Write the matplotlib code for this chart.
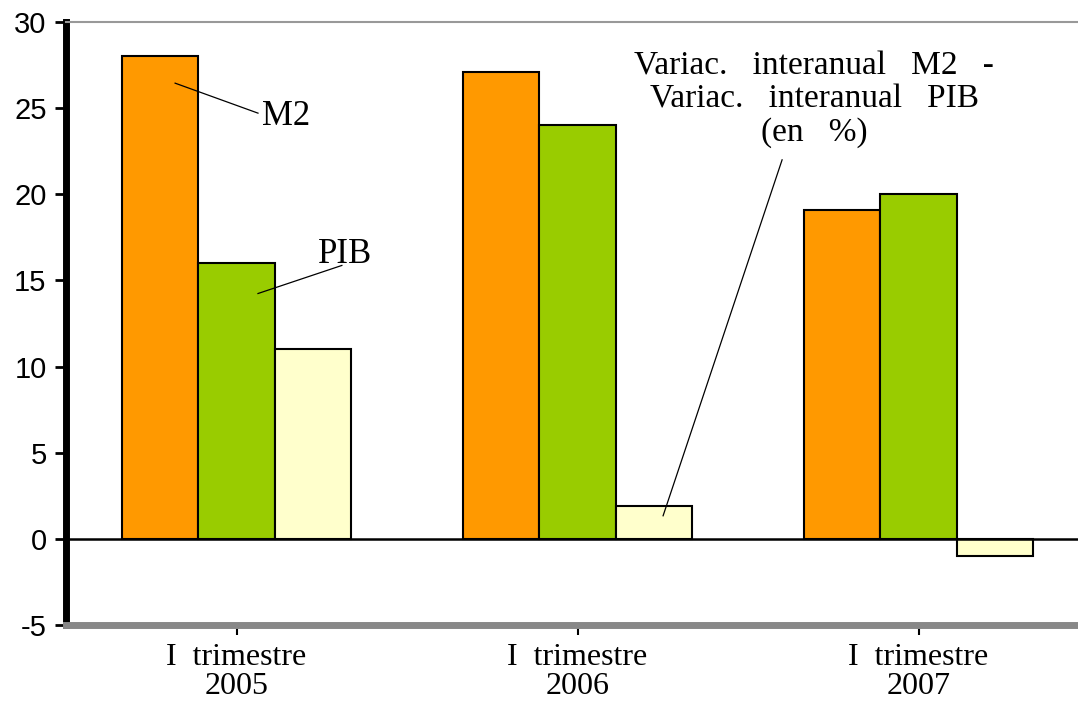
import numpy as np
import matplotlib.pyplot as plt

plt.rcParams['axes.unicode_minus'] = False

# Variación interanual (%) por trimestre
periodos = ['I  trimestre\n2005', 'I  trimestre\n2006', 'I  trimestre\n2007']
m2 = [28.0, 27.1, 19.1]
pib = [16.0, 24.0, 20.0]
diferencia = [11.0, 1.9, -1.0]

colores = ['#FF9900', '#99CC00', '#FFFFCC']
serif = 'Liberation Serif'

fig = plt.figure(figsize=(10.78, 7.01), dpi=100)
ax = fig.add_axes([66 / 1078, 1 - 625 / 701, 1023 / 1078, 603 / 701])

x = np.arange(len(periodos))
w = 0.223
ax.bar(x - w, m2, w, color=colores[0], edgecolor='black', linewidth=1.5)
ax.bar(x, pib, w, color=colores[1], edgecolor='black', linewidth=1.5)
ax.bar(x + w, diferencia, w, color=colores[2], edgecolor='black', linewidth=1.5)

ax.axhline(0, color='black', linewidth=1.8, zorder=3)

ax.set_xlim(-0.5, 2.5)
ax.set_ylim(-5, 30)
ax.set_yticks(range(-5, 31, 5))
ax.set_xticks(x)
ax.set_xticklabels(periodos, family=serif, fontsize=23, linespacing=0.98)

for lab in ax.get_yticklabels():
    lab.set_family('Liberation Sans')
    lab.set_fontsize(21)

ax.spines['left'].set_linewidth(5)
ax.spines['left'].set_color('black')
ax.spines['bottom'].set_linewidth(5)
ax.spines['bottom'].set_color('#888888')
ax.spines['top'].set_linewidth(1.5)
ax.spines['top'].set_color('#999999')
ax.spines['right'].set_visible(False)
ax.tick_params(axis='y', length=8, width=2, pad=6)
ax.tick_params(axis='x', length=7, width=1.5, direction='out', pad=6)

# Etiquetas de las series con líneas guía
ax.text(0.075, 24.0, 'M2', fontsize=25, family=serif, va='baseline', ha='left')
ax.plot([-0.180, 0.063], [26.45, 24.71], color='black', lw=0.9)
ax.text(0.239, 16.0, 'PIB', fontsize=25, family=serif, va='baseline', ha='left')
ax.plot([0.063, 0.309], [14.24, 15.87], color='black', lw=0.9)

ax.text(1.694, 28.3, 'Variac.   interanual   M2   -\nVariac.   interanual   PIB\n(en   %)',
        fontsize=24, family=serif, va='top', ha='center', linespacing=1.1)
ax.plot([1.251, 1.600], [1.34, 22.0], color='black', lw=0.9)

fig.savefig('out.png', dpi=100)
